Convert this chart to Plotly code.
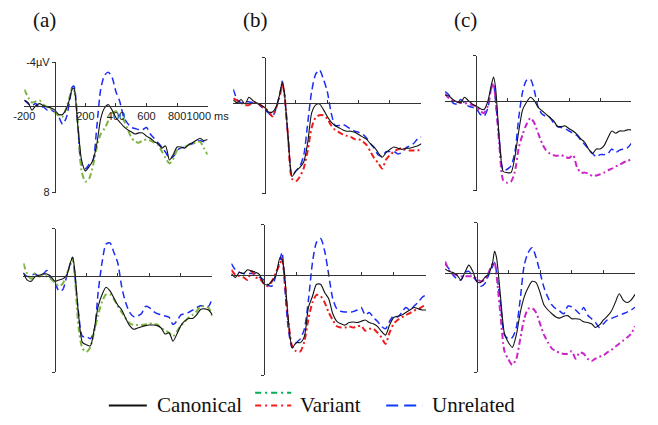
import plotly.graph_objects as go

# time grid (ms)
TIME_MS = list(range(-200, 101, 25)) + [112.5] + list(range(125, 1001, 25))

# ---- top row (a) ----
A1_CANONICAL = [-0.5,-0.3,0.4,0.0,-0.2,0.0,0.1,0.2,0.4,0.8,0.8,0.3, -0.8,-1.5,-1.6,
                1.8,5.0,6.0,5.6,5.0, 3.5,1.2,0.2,-0.1,0.4, 1.1,1.5,1.9,2.2,2.4, 2.6,2.5,2.5,2.8,3.0,
                3.3,3.5,3.9,3.7,5.0, 4.5,3.8,3.8,3.9,3.6, 3.4,3.2,3.0,3.2,3.1]
A1_VARIANT = [-1.5,-0.8,-0.3,-0.4,-0.5,-0.1,0.1,0.3,0.6,0.9,1.0,0.2, -1.0,-1.6,-1.5,
              1.5,6.0,7.0,6.7,5.5, 3.8,2.6,2.1,1.4,0.7, 0.5,0.9,1.3,2.1,2.9, 3.3,3.4,3.2,3.1,3.2,
              3.4,3.6,4.2,4.8,5.3, 4.9,4.1,3.9,3.8,3.6, 3.5,3.4,3.3,3.9,4.5]
A1_UNRELATED = [-0.5,-0.2,0.0,-0.2,0.2,0.1,0.4,0.4,0.6,1.0,1.7,1.1, -0.7,-1.7,-1.8,
                1.8,5.5,5.8,5.4,5.0, 1.9,-1.5,-2.8,-3.1,-2.6, -1.3,-0.4,1.0,1.6,2.0, 2.1,2.2,2.2,2.0,2.6,
                3.0,3.4,3.8,4.3,4.8, 4.7,4.1,3.9,3.8,3.6, 3.5,3.3,3.2,3.3,3.1]

# ---- top row (b) ----
B1_CANONICAL = [-0.25,0.0,-0.3,0.1,-0.5,-0.2,0.0,0.2,0.4,0.8,0.8,0.3, -1.0,-1.8,-1.0,
                3.0,6.5,6.0,5.7,5.2, 3.5,0.9,0.2,0.1,0.6, 1.2,1.7,2.0,2.2,2.4, 2.5,2.5,2.6,2.8,3.0,
                3.2,3.6,3.9,4.4,4.8, 4.4,4.1,3.9,4.0,4.1, 4.0,4.0,3.9,3.8,3.6]
B1_VARIANT = [-0.4,-0.2,0.0,0.2,0.2,0.0,0.0,0.2,0.5,0.7,1.2,0.4, -0.8,-1.7,-0.9,
              3.0,6.7,6.9,6.5,5.75, 4.2,2.2,1.3,1.1,1.1, 1.4,2.0,2.4,2.6,2.8, 2.9,3.0,3.2,3.2,3.4,
              3.7,4.3,4.9,5.3,5.8, 5.0,4.6,4.3,4.1,4.0, 4.1,4.2,4.2,4.2,4.1]
B1_UNRELATED = [-1.2,-0.3,0.0,-0.1,-0.1,0.0,0.0,0.3,0.6,0.9,1.2,0.4, -1.0,-1.9,-1.0,
                3.2,6.4,6.0,5.6,4.6, 1.8,-1.0,-2.5,-2.9,-2.1, -1.0,0.9,2.0,2.0,1.9, 2.1,2.3,2.5,2.6,2.75,
                3.1,3.6,4.0,4.6,4.7, 4.3,4.3,4.3,4.5,4.4, 4.0,3.8,3.6,3.2,3.0]

# ---- top row (c) ----
C1_CANONICAL = [-0.5,-0.4,-0.1,0.1,0.2,-0.3,0.0,0.3,0.5,0.7,0.8,0.1, -1.5,-2.1,-1.2,
                3.5,6.3,6.4,6.4,5.0, 2.7,0.8,0.15,-0.3,0.0, 0.6,0.9,1.2,1.5,1.8, 2.3,2.3,2.25,2.5,2.7,
                3.0,3.4,3.7,4.3,4.7, 4.3,4.3,4.0,3.3,2.7, 2.9,2.7,2.7,2.6,2.6]
C1_VARIANT = [-0.6,-0.2,0.0,0.1,0.2,0.2,0.3,0.4,0.5,0.9,1.1,0.5, -1.2,-1.5,-0.2,
              4.0,7.1,7.3,7.2,6.3, 4.2,3.0,2.1,1.55,2.0, 2.9,3.8,4.4,4.7,4.85, 4.9,4.85,5.0,5.1,4.85,
              5.9,6.4,6.4,6.5,6.7, 6.65,6.55,6.4,6.2,6.05, 5.85,5.7,5.5,5.35,5.25]
C1_UNRELATED = [-0.8,-0.5,0.2,0.3,-0.1,0.2,0.5,0.6,0.7,1.2,1.4,0.7, -1.2,-1.4,0.0,
                3.5,6.2,6.1,5.8,4.6, 1.5,-0.8,-1.8,-1.9,-0.9, 0.6,1.2,1.4,1.5,2.0, 2.3,2.4,2.5,2.7,2.9,
                3.1,3.5,3.9,4.3,4.7, 5.0,4.8,4.8,4.7,4.3, 4.6,4.4,4.3,4.2,3.8]

# ---- bottom row (a) ----
A2_CANONICAL = [-0.3,0.3,0.4,0.0,-0.1,-0.2,-0.2,0.0,0.4,0.3,0.2,-0.1, -1.2,-1.6,-0.7,
                3.1,5.5,5.7,5.8,4.4, 2.5,1.5,0.9,1.2,1.8, 2.4,2.8,3.5,4.1,4.4, 4.3,4.2,4.1,4.05,4.05,
                4.1,4.3,4.8,4.7,5.4, 4.8,4.1,3.7,3.5,3.5, 3.2,2.75,2.7,2.8,3.2]
A2_VARIANT = [-1.1,-0.2,0.2,-0.3,0.0,-0.1,0.0,0.2,0.5,0.8,0.6,-0.2, -1.0,-1.5,-0.4,
              4.2,6.0,6.3,5.9,4.6, 3.2,2.1,1.5,1.5,1.9, 2.5,3.0,3.5,3.9,4.05, 4.05,4.05,4.0,3.9,4.0,
              4.0,4.3,4.5,4.7,5.0, 4.6,4.1,3.8,3.4,3.2, 2.9,2.5,2.5,2.6,3.3]
A2_UNRELATED = [-0.3,0.0,-0.1,-0.2,0.0,-0.2,-0.5,0.2,0.5,1.2,1.1,0.0, -1.2,-1.6,-0.3,
                3.0,5.0,5.0,5.2,4.5, 1.3,-1.2,-2.7,-2.8,-2.0, -1.1,0.9,2.2,3.0,3.35, 3.3,3.1,2.5,2.6,2.9,
                3.1,3.2,3.3,3.4,4.0, 3.7,3.2,3.1,3.0,2.8, 2.6,2.45,2.45,2.5,1.8]

# ---- bottom row (b) ----
B2_CANONICAL = [-0.1,0.2,-0.2,-0.1,-0.4,-0.3,-0.2,0.0,0.7,0.8,0.5,0.0, -1.4,-1.2,-0.4,
                3.4,5.8,5.4,5.4,4.9, 2.6,1.7,0.75,0.75,1.4, 1.9,3.1,3.7,3.9,4.0, 3.8,3.75,3.8,3.7,3.6,
                3.8,3.9,4.1,4.5,4.8, 4.0,3.4,3.3,3.2,3.0, 2.8,2.6,2.7,2.8,2.8]
B2_VARIANT = [-0.4,0.0,0.1,0.2,0.4,-0.3,0.2,0.3,0.7,0.9,0.5,-0.2, -0.9,-1.3,-0.1,
              3.6,5.7,6.1,6.1,5.3, 3.5,2.2,1.6,1.7,2.2, 3.0,3.6,4.1,4.2,4.2, 4.1,4.2,4.1,4.05,4.45,
              4.3,4.3,4.6,5.0,5.5, 4.6,3.9,3.6,3.4,3.2, 3.05,2.85,2.75,2.55,2.4]
B2_UNRELATED = [-0.9,-0.4,-0.2,-0.1,-0.1,-0.1,-0.1,0.2,0.4,0.8,0.9,0.0, -1.2,-1.8,0.2,
                4.2,5.8,5.4,5.1,4.3, 2.0,-1.0,-2.6,-2.9,-1.9, 0.0,1.9,2.7,2.9,2.96, 2.96,2.93,2.8,2.6,3.2,
                3.0,3.4,3.7,4.1,4.3, 3.7,3.25,3.35,3.0,2.6, 2.8,2.5,2.2,1.8,1.6]

# ---- bottom row (c) ----
C2_CANONICAL = [-0.3,-0.1,0.0,0.2,0.6,0.0,-0.6,-0.1,0.7,0.8,0.4,0.1, -0.8,-1.7,-1.2,
                1.9,4.9,5.6,6.0,5.0, 3.2,1.95,1.2,0.7,0.8, 1.6,2.6,3.0,3.3,3.56, 3.65,3.5,3.45,3.7,3.7,
                3.75,3.95,4.0,4.1,4.4, 4.2,3.8,3.5,3.1,2.4, 1.7,2.2,2.4,2.2,1.75]
C2_VARIANT = [-0.9,-0.2,0.1,0.2,0.3,0.3,0.3,0.3,0.5,0.7,0.6,0.0, -0.7,-0.8,0.2,
              3.4,6.3,6.95,7.4,6.9, 5.3,3.7,2.9,2.85,3.2, 4.1,5.0,5.6,6.1,6.3, 6.45,6.52,6.5,6.3,6.9,
              6.4,6.5,6.9,7.1,6.9, 6.75,6.65,6.4,6.2,5.95, 5.7,5.45,5.2,4.9,4.3]
C2_UNRELATED = [-0.7,-0.3,0.2,0.5,0.6,0.0,-0.1,0.3,0.7,1.1,0.9,0.2, -0.5,-0.8,0.0,
                2.5,5.0,5.3,5.2,4.4, 2.1,-0.6,-1.6,-2.0,-1.2, 0.0,1.2,2.0,2.6,2.9, 3.1,3.3,2.7,2.75,3.0,
                3.3,2.8,3.4,3.7,4.0, 4.4,4.1,3.8,3.68,3.55, 3.43,3.3,3.17,3.0,2.78]

PANEL_LABELS = ["(a)", "(b)", "(c)"]
LEGEND_LABELS = ["Canonical", "Variant", "Unrelated"]
X_TICK_VALUES = [-200, 200, 400, 600, 800, 1000]
X_TICK_TEXT = ["-200", "200", "400", "600", "800", "1000 ms"]
Y_TICK_VALUES = [-4, 8]
Y_TICK_TEXT = ["-4\u00b5V", "8"]
Y_RANGE = [8, -4]      # negative up
X_RANGE = [-200, 1000]

W, H = 658, 425
BLACK = "#111111"
BLUE = "#1c2cf5"
GREEN = "#7db443"
RED = "#ee1d1d"
MAGENTA = "#c925c9"

# pixel boxes (left, right, top, bottom) for each panel
panels = [
    dict(box=(14, 207, 58, 192), variant_color=GREEN, data=(A1_CANONICAL, A1_VARIANT, A1_UNRELATED), labels=True),
    dict(box=(234, 432, 53, 193), variant_color=RED, data=(B1_CANONICAL, B1_VARIANT, B1_UNRELATED), labels=False),
    dict(box=(457, 653, 51, 190), variant_color=MAGENTA, data=(C1_CANONICAL, C1_VARIANT, C1_UNRELATED), labels=False),
    dict(box=(13, 212, 229, 377), variant_color=GREEN, data=(A2_CANONICAL, A2_VARIANT, A2_UNRELATED), labels=False),
    dict(box=(232, 437, 225, 380), variant_color=RED, data=(B2_CANONICAL, B2_VARIANT, B2_UNRELATED), labels=False),
    dict(box=(457, 657, 223, 377), variant_color=MAGENTA, data=(C2_CANONICAL, C2_VARIANT, C2_UNRELATED), labels=False),
]

fig = go.Figure()
layout = dict(
    width=W, height=H, margin=dict(l=0, r=0, t=0, b=0),
    paper_bgcolor="white", plot_bgcolor="rgba(0,0,0,0)", showlegend=False,
)
TICK_FONT = dict(family="Arial, Liberation Sans, sans-serif", size=11, color="#222")
SERIF = "Times New Roman, Liberation Serif, serif"

for i, p in enumerate(panels, start=1):
    l, r, t, b = p["box"]
    x0, x1 = l / W, r / W
    y0, y1 = 1 - b / H, 1 - t / H
    xname = "xaxis" if i == 1 else f"xaxis{i}"
    yname = "yaxis" if i == 1 else f"yaxis{i}"
    xref = "x" if i == 1 else f"x{i}"
    yref = "y" if i == 1 else f"y{i}"
    zero_y = y1 - (y1 - y0) * (0 - Y_RANGE[1]) / (Y_RANGE[0] - Y_RANGE[1])
    zero_x = x0 + (x1 - x0) * (0 - X_RANGE[0]) / (X_RANGE[1] - X_RANGE[0])
    layout[xname] = dict(
        domain=[x0, x1], range=X_RANGE, anchor="free", position=zero_y,
        showgrid=False, zeroline=False, showline=True, linecolor="#333", linewidth=1,
        tickvals=X_TICK_VALUES, ticktext=X_TICK_TEXT, ticks="inside", ticklen=3,
        tickcolor="#333", showticklabels=p["labels"], tickfont=TICK_FONT, tickangle=0,
        fixedrange=True,
    )
    layout[yname] = dict(
        domain=[y0, y1], range=Y_RANGE, anchor="free", position=zero_x,
        showgrid=False, zeroline=False, showline=True, linecolor="#333", linewidth=1,
        tickvals=Y_TICK_VALUES, ticktext=Y_TICK_TEXT, ticks="outside", ticklen=3,
        tickcolor="#333", showticklabels=p["labels"], tickfont=TICK_FONT, fixedrange=True,
    )
    can, var, unr = p["data"]
    fig.add_trace(go.Scatter(x=TIME_MS, y=unr, xaxis=xref, yaxis=yref, mode="lines",
                             line=dict(color=BLUE, width=1.5, dash="7px,4px", shape="spline", smoothing=0.7)))
    fig.add_trace(go.Scatter(x=TIME_MS, y=var, xaxis=xref, yaxis=yref, mode="lines",
                             line=dict(color=p["variant_color"], width=2, dash="6px,3px,2px,3px",
                                       shape="spline", smoothing=0.7)))
    fig.add_trace(go.Scatter(x=TIME_MS, y=can, xaxis=xref, yaxis=yref, mode="lines",
                             line=dict(color=BLACK, width=1.1, shape="spline", smoothing=0.7)))

fig.update_layout(**layout)

# panel labels
for lab, cx in zip(PANEL_LABELS, [35, 257, 479]):
    fig.add_annotation(text=lab, x=cx / W, y=1 - 14 / H, xref="paper", yref="paper",
                       showarrow=False, xanchor="center", yanchor="middle",
                       font=dict(family=SERIF, size=21, color="#111"))

# legend (drawn in paper space)
LEG_Y = 1 - 411 / H
LEG_Y2 = 1 - 398 / H
fig.add_shape(type="line", xref="paper", yref="paper", x0=103 / W, x1=143 / W, y0=LEG_Y, y1=LEG_Y,
              line=dict(color=BLACK, width=2))
fig.add_shape(type="line", xref="paper", yref="paper", x0=257 / W, x1=295 / W, y0=LEG_Y2, y1=LEG_Y2,
              line=dict(color="#00b050", width=2, dash="6px,4px,2px,4px"))
fig.add_shape(type="line", xref="paper", yref="paper", x0=257 / W, x1=295 / W, y0=LEG_Y, y1=LEG_Y,
              line=dict(color="#ff1a1a", width=2, dash="6px,4px,2px,4px"))
fig.add_shape(type="line", xref="paper", yref="paper", x0=395 / W, x1=433 / W, y0=LEG_Y, y1=LEG_Y,
              line=dict(color="#0a3cff", width=2, dash="12px,6px"))
for lab, lx in zip(LEGEND_LABELS, [152, 302, 441]):
    fig.add_annotation(text=lab, x=lx / W, y=LEG_Y, xref="paper", yref="paper",
                       showarrow=False, xanchor="left", yanchor="middle",
                       font=dict(family=SERIF, size=21, color="#111"))

fig.write_html(
    "out.html",
    config={"displayModeBar": False, "responsive": False},
    post_script="document.body.style.margin='0';document.body.style.overflow='hidden';",
)
